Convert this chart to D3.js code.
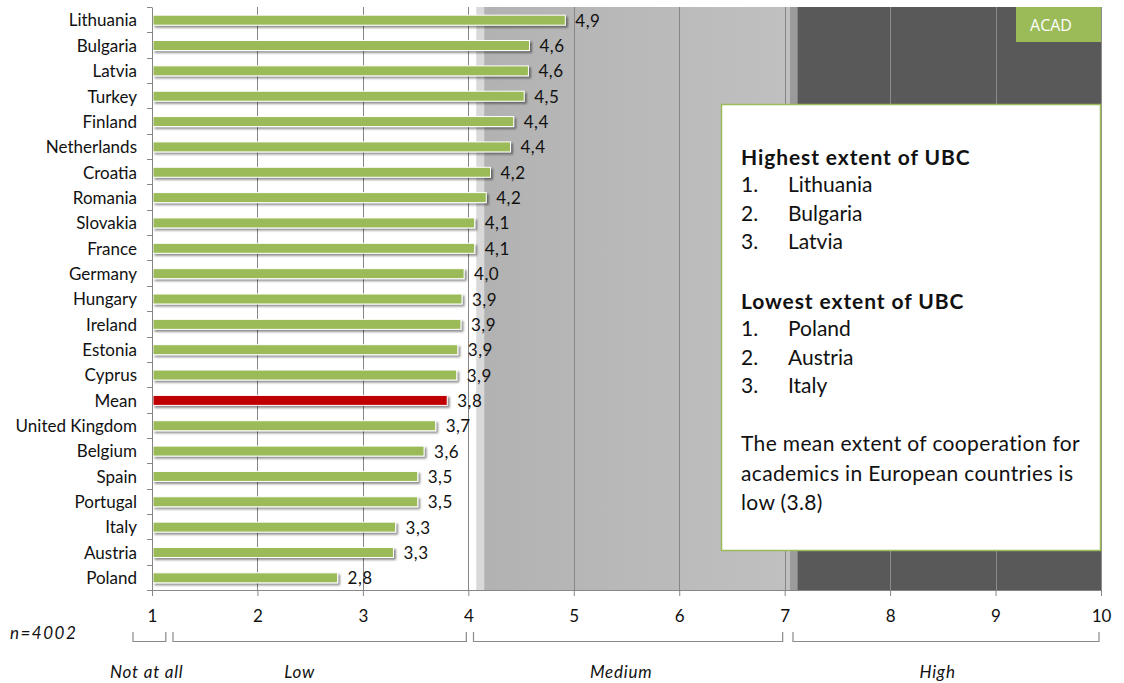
<!DOCTYPE html>
<html><head><meta charset="utf-8">
<script src="https://cdn.jsdelivr.net/npm/d3@7"></script>
<style>body{margin:0;background:#fff}svg{display:block}text{font-family:"Lato",sans-serif}</style>
</head><body><svg id="c" width="1124" height="683"></svg>
<script>
const countries = ["Lithuania","Bulgaria","Latvia","Turkey","Finland","Netherlands","Croatia","Romania","Slovakia","France","Germany","Hungary","Ireland","Estonia","Cyprus","Mean","United Kingdom","Belgium","Spain","Portugal","Italy","Austria","Poland"];
const values = [4.92,4.58,4.57,4.53,4.43,4.40,4.21,4.17,4.06,4.06,3.96,3.94,3.93,3.90,3.89,3.80,3.69,3.58,3.52,3.52,3.31,3.29,2.76];
const xTicks = [1,2,3,4,5,6,7,8,9,10];
const zones = [{label:"Not at all",from:1,to:1.15,mid:0.95},{label:"Low",from:1.18,to:4,mid:2.4},{label:"Medium",from:4.03,to:7,mid:5.45},{label:"High",from:7.06,to:10,mid:8.45}];
const highest = ["Lithuania","Bulgaria","Latvia"];
const lowest = ["Poland","Austria","Italy"];
const summary = ["The mean extent of cooperation for","academics in European countries is","low (3.8)"];

const svg = d3.select("#c");
const L=152, R=1101, T=7, B=590;
const x = d3.scaleLinear().domain([1,10]).range([L,R]);
const y = d3.scaleBand().domain(countries).range([T,B]);

const defs = svg.append("defs");
const g1 = defs.append("linearGradient").attr("id","med");
g1.append("stop").attr("offset","0%").attr("stop-color","#b2b2b2");
g1.append("stop").attr("offset","100%").attr("stop-color","#c0c0c0");
const f = defs.append("filter").attr("id","sh").attr("x","-5%").attr("y","-50%").attr("width","110%").attr("height","200%");
f.append("feGaussianBlur").attr("in","SourceAlpha").attr("stdDeviation",1.2).attr("result","b");
f.append("feOffset").attr("in","b").attr("dx",2).attr("dy",2).attr("result","o");
f.append("feComponentTransfer").attr("in","o").attr("result","o2").append("feFuncA").attr("type","linear").attr("slope",0.45);
const fm = f.append("feMerge"); fm.append("feMergeNode").attr("in","o2"); fm.append("feMergeNode").attr("in","SourceGraphic");

// background zones
const bg = [
  {a:4.075,b:4.15,c:"#d9d9d9"},
  {a:4.15,b:7.05,c:"url(#med)"},
  {a:7.05,b:7.12,c:"#9b9b9b"},
  {a:7.12,b:10,c:"#595959"}
];
svg.selectAll("rect.bg").data(bg).join("rect").attr("class","bg")
  .attr("x",d=>x(d.a)).attr("width",d=>x(d.b)-x(d.a)).attr("y",T).attr("height",B-T).attr("fill",d=>d.c);

// gridlines
svg.selectAll("line.grid").data(xTicks.slice(1)).join("line").attr("class","grid")
  .attr("x1",d=>Math.round(x(d))+0.5).attr("x2",d=>Math.round(x(d))+0.5).attr("y1",T).attr("y2",B)
  .attr("stroke",d=>d>7?"#8c8c8c":"#868686").attr("stroke-width",1);

// ACAD tag
svg.append("rect").attr("x",1016).attr("y",T).attr("width",R-1016).attr("height",35).attr("fill","#9bbb59");
svg.append("text").attr("x",1051).attr("y",31).attr("text-anchor","middle").attr("fill","#fff")
  .style("font-family","'Open Sans',sans-serif").style("font-size","16px").text("ACAD");

// bars
svg.selectAll("rect.bar").data(countries).join("rect").attr("class","bar")
  .attr("x",x(1)+1).attr("y",d=>y(d)+y.bandwidth()/2-4.5)
  .attr("width",(d,i)=>x(values[i])-x(1)-1).attr("height",10)
  .attr("fill",d=>d==="Mean"?"#c00000":"#9bbb59").attr("stroke","#fff").attr("stroke-width",1)
  .attr("filter","url(#sh)");

// value labels
const fmt = v=>d3.format(".1f")(v).replace(".",",");
svg.selectAll("text.val").data(countries).join("text").attr("class","val")
  .attr("x",(d,i)=>x(values[i])+10).attr("y",d=>y(d)+y.bandwidth()/2+7)
  .style("font-size","17px").style("letter-spacing","0.5px").attr("fill","#111").text((d,i)=>fmt(values[i]));

// y axis
const ya = svg.append("g").attr("transform",`translate(${L},0)`)
  .call(d3.axisLeft(y).tickSize(0).tickPadding(15));
ya.select(".domain").attr("stroke","#868686");
ya.selectAll("text").style("font-size","17px").attr("fill","#111").attr("dy","0.4em").style("font-family","Lato,sans-serif");
svg.selectAll("line.yt").data(d3.range(countries.length+1)).join("line").attr("class","yt")
  .attr("x1",L-5).attr("x2",L).attr("y1",d=>Math.round(T+d*y.step())+0.5).attr("y2",d=>Math.round(T+d*y.step())+0.5)
  .attr("stroke","#868686");

// x axis
const xa = svg.append("g").attr("transform",`translate(0,${B})`)
  .call(d3.axisBottom(x).tickValues(xTicks).tickSize(6).tickPadding(14).tickFormat(d3.format("d")));
xa.select(".domain").attr("stroke","#868686").attr("d",`M${L-5},0.5H${R}`);
xa.selectAll(".tick line").attr("stroke","#868686");
xa.selectAll("text").style("font-size","17px").attr("fill","#111").style("font-family","Lato,sans-serif");

// brackets
svg.selectAll("path.br").data(zones).join("path").attr("class","br")
  .attr("d",d=>`M${x(d.from)-(d.from===1?19:-2)},632V641.5H${x(d.to)-2}V632`)
  .attr("fill","none").attr("stroke","#8a8a8a").attr("stroke-width",1.2);
svg.selectAll("text.zl").data(zones).join("text").attr("class","zl")
  .attr("x",d=>x(d.mid)).attr("y",678).attr("text-anchor","middle")
  .style("font-size","17px").style("letter-spacing","0.8px").style("font-style","italic").attr("fill","#111").text(d=>d.label);
svg.append("text").attr("x",10).attr("y",639).style("font-size","17px").style("letter-spacing","1.5px").style("font-style","italic").attr("fill","#111").text("n=4002");

// legend box
svg.append("rect").attr("x",721.5).attr("y",104.5).attr("width",379).attr("height",446).attr("fill","#fff").attr("stroke","#9bbb59").attr("stroke-width",1.5);
const lg = svg.append("g").style("font-size","21px").attr("fill","#111");
lg.append("text").attr("x",741).attr("y",165).style("font-weight","bold").style("letter-spacing","0.9px").text("Highest extent of UBC");
highest.forEach((c,i)=>{
  lg.append("text").attr("x",741).attr("y",192+i*28.7).text((i+1)+".");
  lg.append("text").attr("x",788).attr("y",192+i*28.7).text(c);
});
lg.append("text").attr("x",741).attr("y",309).style("font-weight","bold").style("letter-spacing","0.9px").text("Lowest extent of UBC");
lowest.forEach((c,i)=>{
  lg.append("text").attr("x",741).attr("y",336+i*28.7).text((i+1)+".");
  lg.append("text").attr("x",788).attr("y",336+i*28.7).text(c);
});
summary.forEach((s,i)=>lg.append("text").attr("x",741).attr("y",451+i*29.5).style("letter-spacing","0.35px").text(s));
</script></body></html>
